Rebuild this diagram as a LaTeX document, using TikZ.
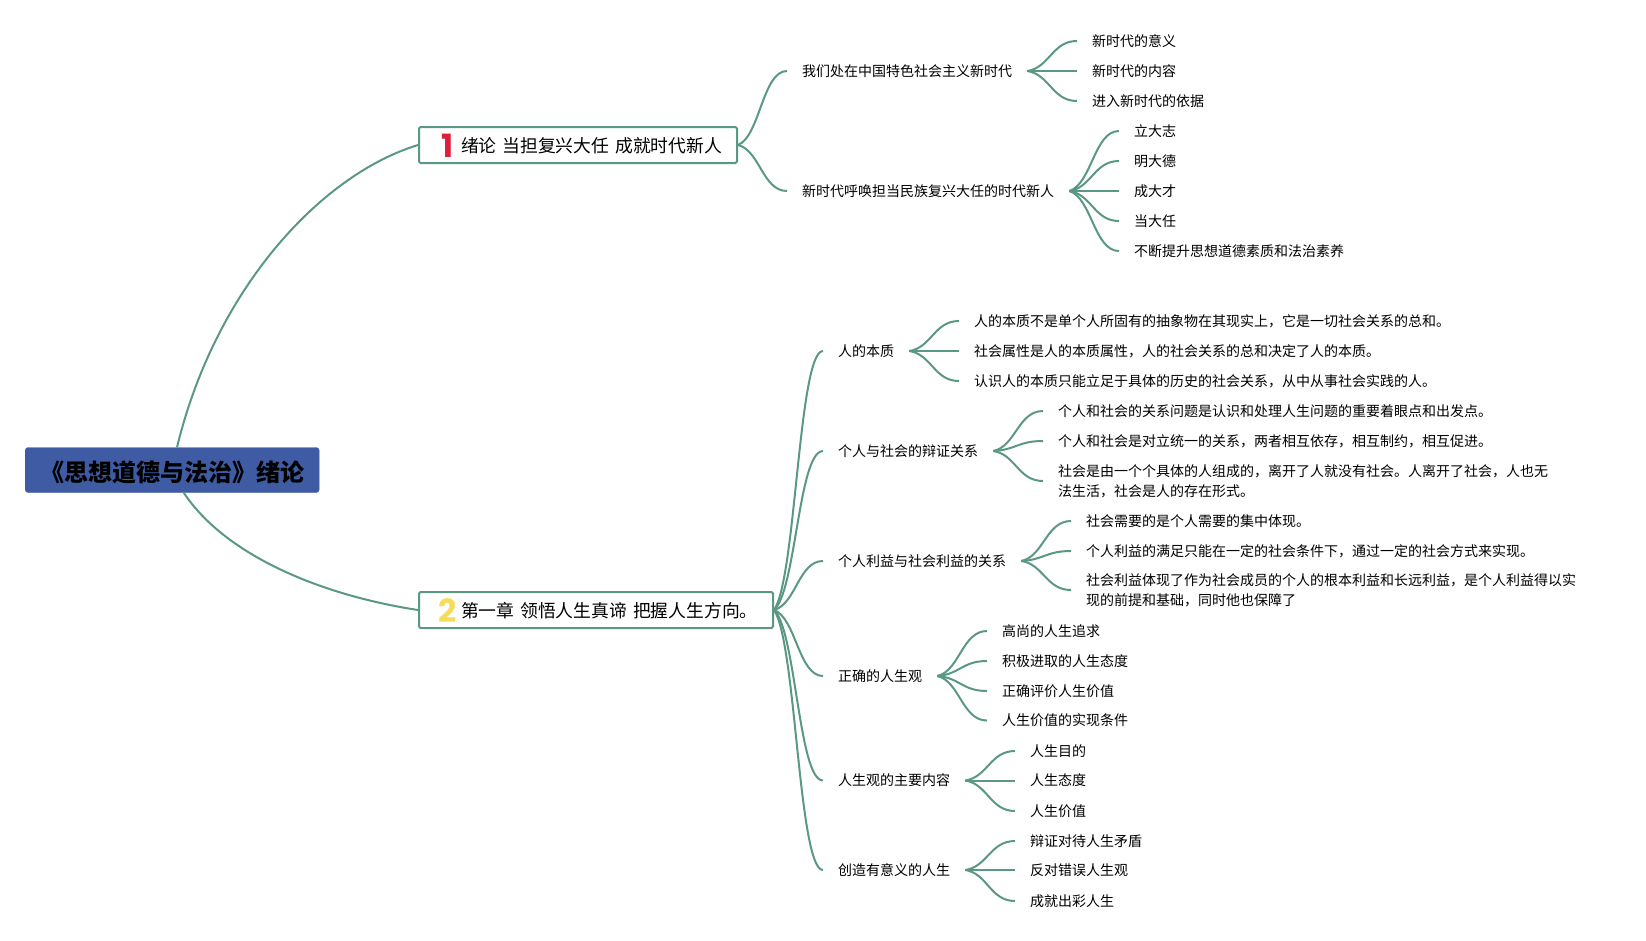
\documentclass[tikz,border=0pt]{standalone}
\usepackage{fontspec}
\setmainfont{Noto Sans CJK SC}
\newfontfamily\numfont{Poppins}
\usepackage{tikz}
\usetikzlibrary{calc}
\usetikzlibrary{positioning}
\definecolor{linkgreen}{HTML}{5B9882}
\definecolor{rootblue}{HTML}{3F5BA3}
\definecolor{numred}{HTML}{DC1F3A}
\definecolor{numyellow}{HTML}{F7DC5A}
\newcommand{\badge}[2]{\makebox[32pt][c]{\hspace{6pt}\smash{\raisebox{-5pt}{\fontsize{32}{32}\selectfont\numfont\bfseries\color{#1}#2}}}}
\tikzset{
  rootbox/.style={draw=rootblue,fill=rootblue,rounded corners=3pt,anchor=west,minimum height=45pt,
    minimum width=294pt,inner sep=0pt,text height=25pt,text depth=3pt,font=\fontsize{24}{28}\selectfont\bfseries},
  topic/.style={draw=linkgreen,line width=2pt,rounded corners=1.5pt,anchor=west,minimum height=36pt,
    inner xsep=10pt,inner ysep=0pt,text height=17pt,text depth=2pt,align=left,font=\fontsize{17.8}{22}\selectfont},
  leaf/.style={anchor=west,inner xsep=15pt,inner ysep=1pt,align=left,font=\fontsize{14}{20}\selectfont},
  branch/.style={draw=linkgreen,line width=2pt,to path={
    let \p1=(\tikztostart),\p2=(\tikztotarget) in
    .. controls ({\x1+0.45*(\x2-\x1)},{\y1+0.12*(\y2-\y1)}) and ({\x1+0.5*(\x2-\x1)},\y2) .. (\tikztotarget)}}
}
\begin{document}
\begin{tikzpicture}[x=1pt,y=1pt]
        \useasboundingbox (0,0) rectangle (1646,-940);

        \node[rootbox] (root) at (25,-470) {《思想道德与法治》绪论};
        \node[topic,text width=298pt] (t1) at (418,-145) {\badge{numred}{1}绪论 当担复兴大任 成就时代新人};
        \node[topic,text width=334pt] (t2) at (418,-610) {\badge{numyellow}{2}第一章 领悟人生真谛 把握人生方向。};

        \draw[draw=linkgreen,line width=2pt] (root.78) .. controls (215,-290) and (320,-175) .. (t1.west);
        \draw[draw=linkgreen,line width=2pt] (root.-63) .. controls (225,-555) and (320,-595) .. (t2.west);

        % upper half
        \node[leaf] (a1) at (787,-71) {我们处在中国特色社会主义新时代};
        \node[leaf] (a2) at (787,-191) {新时代呼唤担当民族复兴大任的时代新人};
        \draw[branch] (t1.east) to (a1.west);
        \draw[branch] (t1.east) to (a2.west);

        \node[leaf] (a1x) at (1077,-41) {新时代的意义};
        \node[leaf] (a1y) at (1077,-71) {新时代的内容};
        \node[leaf] (a1z) at (1077,-101) {进入新时代的依据};
        \draw[branch] (a1.east) to (a1x.west);
        \draw[branch] (a1.east) to (a1y.west);
        \draw[branch] (a1.east) to (a1z.west);

        \node[leaf] (a2p) at (1119,-131) {立大志};
        \node[leaf] (a2q) at (1119,-161) {明大德};
        \node[leaf] (a2r) at (1119,-191) {成大才};
        \node[leaf] (a2s) at (1119,-221) {当大任};
        \node[leaf] (a2t) at (1119,-251) {不断提升思想道德素质和法治素养};
        \draw[branch] (a2.east) to (a2p.west);
        \draw[branch] (a2.east) to (a2q.west);
        \draw[branch] (a2.east) to (a2r.west);
        \draw[branch] (a2.east) to (a2s.west);
        \draw[branch] (a2.east) to (a2t.west);

        % lower half
        \node[leaf] (b1) at (823,-351) {人的本质};
        \node[leaf] (b2) at (823,-451) {个人与社会的辩证关系};
        \node[leaf] (b3) at (823,-561) {个人利益与社会利益的关系};
        \node[leaf] (b4) at (823,-676) {正确的人生观};
        \node[leaf] (b5) at (823,-780.5) {人生观的主要内容};
        \node[leaf] (b6) at (823,-870) {创造有意义的人生};
        \draw[branch] (t2.east) to (b1.west);
        \draw[branch] (t2.east) to (b2.west);
        \draw[branch] (t2.east) to (b3.west);
        \draw[branch] (t2.east) to (b4.west);
        \draw[branch] (t2.east) to (b5.west);
        \draw[branch] (t2.east) to (b6.west);

        \node[leaf] (b1x) at (959,-321) {人的本质不是单个人所固有的抽象物在其现实上，它是一切社会关系的总和。};
        \node[leaf] (b1y) at (959,-351) {社会属性是人的本质属性，人的社会关系的总和决定了人的本质。};
        \node[leaf] (b1z) at (959,-381) {认识人的本质只能立足于具体的历史的社会关系，从中从事社会实践的人。};
        \draw[branch] (b1.east) to (b1x.west);
        \draw[branch] (b1.east) to (b1y.west);
        \draw[branch] (b1.east) to (b1z.west);

        \node[leaf] (b2x) at (1043,-411) {个人和社会的关系问题是认识和处理人生问题的重要着眼点和出发点。};
        \node[leaf] (b2y) at (1043,-441) {个人和社会是对立统一的关系，两者相互依存，相互制约，相互促进。};
        \node[leaf] (b2z) at (1043,-481) {社会是由一个个具体的人组成的，离开了人就没有社会。人离开了社会，人也无\\法生活，社会是人的存在形式。};
        \draw[branch] (b2.east) to (b2x.west);
        \draw[branch] (b2.east) to (b2y.west);
        \draw[branch] (b2.east) to (b2z.west);

        \node[leaf] (b3x) at (1071,-521) {社会需要的是个人需要的集中体现。};
        \node[leaf] (b3y) at (1071,-551) {个人利益的满足只能在一定的社会条件下，通过一定的社会方式来实现。};
        \node[leaf] (b3z) at (1071,-590) {社会利益体现了作为社会成员的个人的根本利益和长远利益，是个人利益得以实\\现的前提和基础，同时他也保障了};
        \draw[branch] (b3.east) to (b3x.west);
        \draw[branch] (b3.east) to (b3y.west);
        \draw[branch] (b3.east) to (b3z.west);

        \node[leaf] (b4p) at (987,-631) {高尚的人生追求};
        \node[leaf] (b4q) at (987,-661) {积极进取的人生态度};
        \node[leaf] (b4r) at (987,-691) {正确评价人生价值};
        \node[leaf] (b4s) at (987,-720.5) {人生价值的实现条件};
        \draw[branch] (b4.east) to (b4p.west);
        \draw[branch] (b4.east) to (b4q.west);
        \draw[branch] (b4.east) to (b4r.west);
        \draw[branch] (b4.east) to (b4s.west);

        \node[leaf] (b5x) at (1015,-751) {人生目的};
        \node[leaf] (b5y) at (1015,-780.5) {人生态度};
        \node[leaf] (b5z) at (1015,-811) {人生价值};
        \draw[branch] (b5.east) to (b5x.west);
        \draw[branch] (b5.east) to (b5y.west);
        \draw[branch] (b5.east) to (b5z.west);

        \node[leaf] (b6x) at (1015,-841) {辩证对待人生矛盾};
        \node[leaf] (b6y) at (1015,-870) {反对错误人生观};
        \node[leaf] (b6z) at (1015,-901) {成就出彩人生};
        \draw[branch] (b6.east) to (b6x.west);
        \draw[branch] (b6.east) to (b6y.west);
        \draw[branch] (b6.east) to (b6z.west);
      \end{tikzpicture}
\end{document}
